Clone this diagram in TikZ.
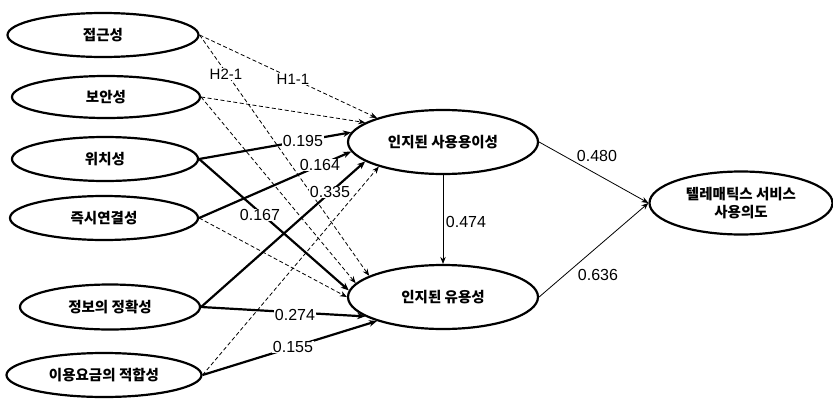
\documentclass[tikz,border=0pt]{standalone}
\usepackage{fontspec}
\setmainfont{Liberation Sans}
\newfontfamily\kr{Noto Sans CJK KR}
\usetikzlibrary{shapes.geometric,arrows.meta}
\tikzset{
  latent/.style={ellipse, draw, fill=white, line width=2.2pt, inner sep=0pt, align=center,
    font=\kr\bfseries\fontsize{14.5}{17.5}\selectfont},
  thickarr/.style={line width=2.2pt, -{Stealth[length=8pt,width=6.5pt]}},
  dasharr/.style={line width=0.8pt, dash pattern=on 4pt off 2.5pt, -{Stealth[length=7pt,width=5.5pt]}},
  thinarr/.style={line width=0.8pt, -{Stealth[length=7pt,width=5.5pt]}},
  lbl/.style={fill=white, inner sep=0.6pt, font=\fontsize{16}{16}\selectfont},
  hlbl/.style={fill=white, inner sep=0.6pt, font=\fontsize{15}{15}\selectfont},
  plbl/.style={inner sep=0.6pt, font=\fontsize{16}{16}\selectfont}
}
\begin{document}
\begin{tikzpicture}[x=1pt,y=-1pt]
\useasboundingbox (0,0) rectangle (833,399);
% exogenous constructs
\node[latent, minimum width=191pt, minimum height=44pt] (a) at (103,35) {접근성};
\node[latent, minimum width=188pt, minimum height=42pt] (b) at (106,97) {보안성};
\node[latent, minimum width=186pt, minimum height=44pt] (c) at (105,159) {위치성};
\node[latent, minimum width=188pt, minimum height=44pt] (d) at (104,218) {즉시연결성};
\node[latent, minimum width=180pt, minimum height=45pt] (e) at (110,307) {정보의 정확성};
\node[latent, minimum width=195pt, minimum height=44pt] (f) at (104,375) {이용요금의 적합성};
% endogenous constructs
\node[latent, minimum width=190pt, minimum height=64pt] (peou) at (443,142) {인지된 사용용이성};
\node[latent, minimum width=190pt, minimum height=64pt] (pu) at (443,297) {인지된 유용성};
\node[latent, minimum width=183pt, minimum height=63pt] (bi) at (741,203) {텔레매틱스 서비스\\사용의도};
% dashed (non-significant) paths
\draw[dasharr] (a.east) -- (peou.160);
\draw[dasharr] (a.east) -- (pu.164);
\draw[dasharr] (b.east) -- (peou.166.5);
\draw[dasharr] (b.east) -- (pu.171);
\draw[dasharr] (d.east) -- (pu.180);
\draw[dasharr] (f.east) -- (peou.201.5);
% significant paths
\draw[thickarr] (c.east) -- (peou.174);
\draw[thickarr] (c.east) -- (pu.176);
\draw[thickarr] (d.east) -- (peou.186);
\draw[thickarr] (e.east) -- (peou.194);
\draw[thickarr] (e.east) -- (pu.194);
\draw[thickarr] (f.east) -- (pu.200);
\draw[thinarr] (peou.south) -- (pu.north);
\draw[thinarr] (peou.east) -- (bi.west);
\draw[thinarr] (pu.east) -- (bi.west);
% labels
\node[hlbl] (h21) at (226,74) {H2-1};
\node[hlbl] (h11) at (293,79) {H1-1};
\node[lbl] (l195) at (303,141) {0.195};
\node[lbl] (l164) at (320,165) {0.164};
\node[lbl] (l335) at (330,192) {0.335};
\node[lbl] (l167) at (260,215) {0.167};
\node[lbl] (l274) at (295,315) {0.274};
\node[lbl] (l155) at (293,347) {0.155};
\node[plbl] (l474) at (466,222) {0.474};
\node[plbl] (l480) at (597,156) {0.480};
\node[plbl] (l636) at (598,275) {0.636};
\end{tikzpicture}
\end{document}
